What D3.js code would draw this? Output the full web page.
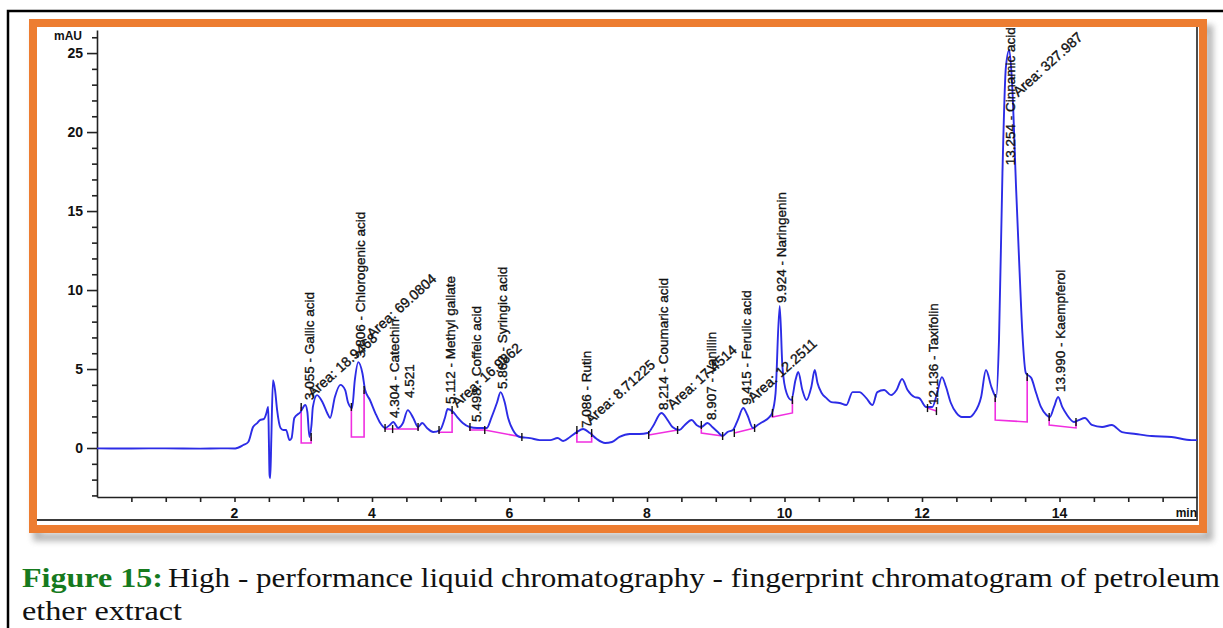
<!DOCTYPE html>
<html><head><meta charset="utf-8">
<script src="https://cdn.jsdelivr.net/npm/d3@7"></script>
<style>html,body{margin:0;padding:0;background:#fff;}svg{display:block;}</style>
</head><body>
<svg id="c" width="1223" height="628"></svg>
<script>
// ---- data (retention time in min, absorbance in mAU) ----
const timeMin = [0,0.5,1.0,1.5,1.8,2.01,2.13,2.20,2.27,2.33,
2.37,2.43,2.46,2.49,2.50,2.51,2.52,2.535,2.56,2.59,
2.62,2.67,2.71,2.75,2.80,2.83,2.87,2.96,3.03,3.06,
3.09,3.12,3.14,3.20,3.28,3.35,3.39,3.46,3.54,3.61,
3.65,3.71,3.75,3.80,3.86,3.90,3.97,4.05,4.12,4.19,
4.26,4.31,4.38,4.45,4.52,4.60,4.67,4.73,4.80,4.89,
4.99,5.06,5.10,5.18,5.24,5.32,5.42,5.53,5.67,5.74,
5.82,5.87,5.93,5.98,6.05,6.15,6.30,6.44,6.59,6.70,
6.78,6.88,6.98,7.07,7.17,7.27,7.39,7.49,7.60,7.75,
7.89,8.01,8.08,8.21,8.30,8.37,8.47,8.55,8.65,8.72,
8.79,8.88,8.95,9.03,9.10,9.17,9.25,9.32,9.40,9.46,
9.54,9.61,9.68,9.78,9.82,9.87,9.93,9.97,10.03,10.10,
10.16,10.20,10.26,10.32,10.39,10.44,10.48,10.54,10.61,10.68,
10.80,10.90,10.99,11.09,11.19,11.28,11.35,11.45,11.55,11.63,
11.71,11.79,11.89,11.96,12.06,12.15,12.22,12.29,12.35,12.42,
12.50,12.58,12.69,12.76,12.86,12.93,13.01,13.08,13.12,13.17,
13.22,13.27,13.31,13.37,13.42,13.46,13.51,13.59,13.66,13.73,
13.81,13.86,13.92,13.98,14.04,14.11,14.21,14.28,14.37,14.47,
14.62,14.76,14.91,15.11,15.34,15.63,15.92,16.0];
const absorbance = [-0.02,-0.03,-0.02,-0.04,-0.02,-0.03,0.19,0.38,1.33,1.58,
1.77,1.84,2.15,2.6,0.5,-1.7,-1.9,0.5,4.3,3.67,
2.4,1.27,1.14,1.14,0.5,0.63,1.9,2.28,2.72,2.28,
0.7,1.46,2.6,3.35,2.9,2.2,1.9,3.23,4.0,3.67,
2.9,2.53,4.3,5.44,4.75,3.67,3.04,2.2,1.58,1.27,
1.46,1.65,1.27,1.58,2.4,1.9,1.33,1.58,1.27,1.01,
1.14,1.9,2.47,2.28,1.96,1.58,1.33,1.27,1.27,1.96,
2.9,3.54,2.9,1.9,1.14,0.7,0.63,0.5,0.5,0.63,
0.44,0.7,1.01,1.2,0.95,0.57,0.32,0.38,0.7,0.89,
0.89,0.95,1.33,2.22,1.77,1.33,1.14,1.46,1.77,1.46,
1.33,1.58,1.33,1.01,0.76,1.01,1.14,1.77,2.53,2.09,
1.27,1.46,1.65,1.96,2.22,3.48,8.99,5.13,3.48,3.04,
4.3,4.81,3.67,3.04,3.86,4.94,4.11,3.48,3.16,2.91,
2.85,2.72,3.54,3.54,3.16,2.72,3.54,3.67,3.35,3.67,
4.37,3.67,3.23,3.16,2.6,2.6,3.48,4.49,3.86,2.85,
2.22,1.96,1.96,2.22,3.23,4.94,3.86,3.23,6.84,17.4,
24.1,25.2,23.1,16.3,11.1,7.28,4.75,4.43,3.48,2.6,
2.09,1.96,2.6,3.23,2.6,2.09,1.65,1.77,1.9,1.46,
1.33,1.46,1.01,0.89,0.76,0.7,0.5,0.5];

const xTickLabels = [2,4,6,8,10,12,14];
const yTickLabels = [0,5,10,15,20,25];

const peakTimes = [3.055,3.806,4.304,4.521,5.112,5.498,5.862,7.086,8.214,8.907,9.415,9.924,12.136,13.254,13.990];
const peakNames = ["Gallic acid","Chlorogenic acid","Catechin","","Methyl gallate","Coffeic acid","Syringic acid","Rutin","Coumaric acid","Vanillin","Ferulic acid","Naringenin","Taxifolin","Cinnamic acid","Kaempferol"];
const peakLabelBase = [3.04,5.70,1.9,3.16,2.78,1.65,3.73,1.27,2.4,1.77,2.72,9.18,2.72,17.9,3.54];

const areaValues = ["18.9468","69.0804","16.9862","8.71225","17.4514","12.2511","327.987"];
const areaTimes = [3.14,4.0,5.24,7.18,8.37,9.545,13.40];
const areaBase = [3.16,6.9,2.53,1.46,2.4,2.85,22.2];

// integration baselines (time, mAU)
const baselineTimes = [[2.97,2.97,3.115,3.115],[3.70,3.70,3.885,3.885],[4.19,4.19,4.67,4.67],
 [4.975,4.975,5.165,5.165],[5.425,5.425,5.64,6.18],[6.98,6.98,7.195,7.195],[8.025,8.445],
 [8.79,8.79,9.10],[9.27,9.565],[9.825,9.825,10.115,10.115],[12.08,12.21],
 [13.065,13.065,13.53,13.53],[13.85,13.85,14.24,14.24]];
const baselineValues = [[2.6,0.32,0.32,0.7],[2.6,0.7,0.7,3.67],[1.27,1.2,1.2,1.33],
 [1.14,1.0,1.0,2.4],[1.33,1.14,1.14,0.7],[1.14,0.38,0.38,0.95],[0.82,1.14],
 [1.46,0.95,0.76],[0.95,1.27],[2.22,1.96,2.22,3.04],[2.53,2.34],
 [3.16,1.77,1.65,4.49],[1.96,1.46,1.27,1.65]];
const extraTickTimes = [4.30,5.64];
const extraTickValues = [1.2,1.14];

// ---- drawing ----
const svg = d3.select("#c");
const defs = svg.append("defs");
defs.append("filter").attr("id","sh").attr("x","-5%").attr("y","-5%").attr("width","110%").attr("height","110%")
  .append("feGaussianBlur").attr("stdDeviation",3);

// outer page frame
svg.append("path").attr("d","M8,628 L8,11 L1223,11").attr("fill","none").attr("stroke","#000").attr("stroke-width",2.5);

// shadow + orange frame
svg.append("rect").attr("x",37).attr("y",29).attr("width",1172).attr("height",508)
  .attr("fill","none").attr("stroke","#777").attr("stroke-width",8).attr("opacity",0.55).attr("filter","url(#sh)");
svg.append("rect").attr("x",33).attr("y",23).attr("width",1170).attr("height",506)
  .attr("fill","#fff").attr("stroke","#ED7D31").attr("stroke-width",8);
svg.append("path").attr("d","M37,520 L1197,520 L1197,27").attr("fill","none").attr("stroke","#3a3a3a").attr("stroke-width",1.8);

const x = d3.scaleLinear().domain([0,16]).range([97,1197]);
const y = d3.scaleLinear().domain([-3.1,26.46]).range([497,30]);

const axisFont = "Liberation Sans, Arial, sans-serif";

// y axis
const yMinor = d3.range(-3,27,1);
const gy = svg.append("g").attr("transform","translate(97,0)");
gy.call(d3.axisLeft(y).tickValues(yMinor.filter(v=>v%5!==0)).tickSize(5).tickSizeOuter(0).tickFormat(""));
gy.append("g").call(d3.axisLeft(y).tickValues(yTickLabels).tickSize(10).tickSizeOuter(0).tickFormat(""))
  .select(".domain").remove();
gy.selectAll("path,line").attr("stroke","#222").attr("stroke-width",1.6);
svg.selectAll(".ylab").data(yTickLabels).join("text").attr("class","ylab")
  .attr("x",83).attr("y",d=>y(d)+5).attr("text-anchor","end")
  .attr("font-family",axisFont).attr("font-weight","bold").attr("font-size",14).attr("fill","#111").text(d=>d);
svg.append("text").attr("x",82).attr("y",40).attr("text-anchor","end").attr("font-family",axisFont)
  .attr("font-weight","bold").attr("font-size",12).attr("fill","#111").text("mAU");

// x axis
const gx = svg.append("g").attr("transform","translate(0,497)");
gx.call(d3.axisBottom(x).tickValues(d3.range(0.5,16,0.5)).tickSize(5).tickSizeOuter(0).tickFormat(""));
gx.selectAll("path,line").attr("stroke","#222").attr("stroke-width",1.6);
svg.selectAll(".xlab").data(xTickLabels).join("text").attr("class","xlab")
  .attr("x",d=>x(d)).attr("y",518).attr("text-anchor","middle")
  .attr("font-family",axisFont).attr("font-weight","bold").attr("font-size",14).attr("fill","#111").text(d=>d);
svg.append("text").attr("x",1197).attr("y",517).attr("text-anchor","end").attr("font-family",axisFont)
  .attr("font-weight","bold").attr("font-size",12).attr("fill","#111").text("min");

// integration baselines
const bl = d3.line().x(d=>x(d[0])).y(d=>y(d[1]));
baselineTimes.forEach((ts,i)=>{
  const pts = d3.zip(ts, baselineValues[i]);
  svg.append("path").attr("d",bl(pts)).attr("fill","none").attr("stroke","#f02ee0").attr("stroke-width",1.6);
});

// trace
const trace = d3.zip(timeMin, absorbance);
svg.append("path").attr("d", d3.line().x(d=>x(d[0])).y(d=>y(d[1])).curve(d3.curveMonotoneX)(trace))
  .attr("fill","none").attr("stroke","#2c2ce6").attr("stroke-width",1.9).attr("stroke-linejoin","round");

// tick marks at integration limits
const marks = [];
baselineTimes.forEach((ts,i)=>{
  marks.push([ts[0], baselineValues[i][0]]);
  marks.push([ts[ts.length-1], baselineValues[i][ts.length-1]]);
});
extraTickTimes.forEach((t,i)=>marks.push([t, extraTickValues[i]]));
svg.selectAll(".mk").data(marks).join("line").attr("class","mk")
  .attr("x1",d=>x(d[0])).attr("x2",d=>x(d[0])).attr("y1",d=>y(d[1])-4).attr("y2",d=>y(d[1])+4)
  .attr("stroke","#111").attr("stroke-width",1.4);

// peak labels (vertical)
const lblFont = "Liberation Sans, Arial, sans-serif";
peakTimes.forEach((t,i)=>{
  const txt = peakNames[i] ? `${t.toFixed(3)} -  ${peakNames[i]}` : t.toFixed(3);
  svg.append("text").attr("transform",`translate(${x(t)+6.5},${y(peakLabelBase[i])}) rotate(-90)`)
    .attr("font-family",lblFont).attr("font-size",13.5).attr("fill","#111")
    .attr("stroke","#111").attr("stroke-width",0.35).text(txt);
});
// area labels (diagonal)
areaValues.forEach((a,i)=>{
  svg.append("text").attr("transform",`translate(${x(areaTimes[i])},${y(areaBase[i])}) rotate(-42)`)
    .attr("font-family",lblFont).attr("font-size",14).attr("fill","#111")
    .attr("stroke","#111").attr("stroke-width",0.35).text(`Area: ${a}`);
});

// caption
const capFont = "Liberation Serif, Times New Roman, Times, serif";
svg.append("text").attr("x",22).attr("y",587).attr("font-family",capFont).attr("font-weight","bold")
  .attr("font-size",28).attr("fill","#167a1e").attr("textLength",141).attr("lengthAdjust","spacingAndGlyphs")
  .text("Figure 15:");
svg.append("text").attr("x",168).attr("y",587).attr("font-family",capFont)
  .attr("font-size",28).attr("fill","#111").attr("textLength",1052).attr("lengthAdjust","spacingAndGlyphs")
  .text("High - performance liquid chromatography - fingerprint chromatogram of petroleum");
svg.append("text").attr("x",22).attr("y",620).attr("font-family",capFont)
  .attr("font-size",28).attr("fill","#111").attr("textLength",160).attr("lengthAdjust","spacingAndGlyphs")
  .text("ether extract");
</script>
</body></html>
